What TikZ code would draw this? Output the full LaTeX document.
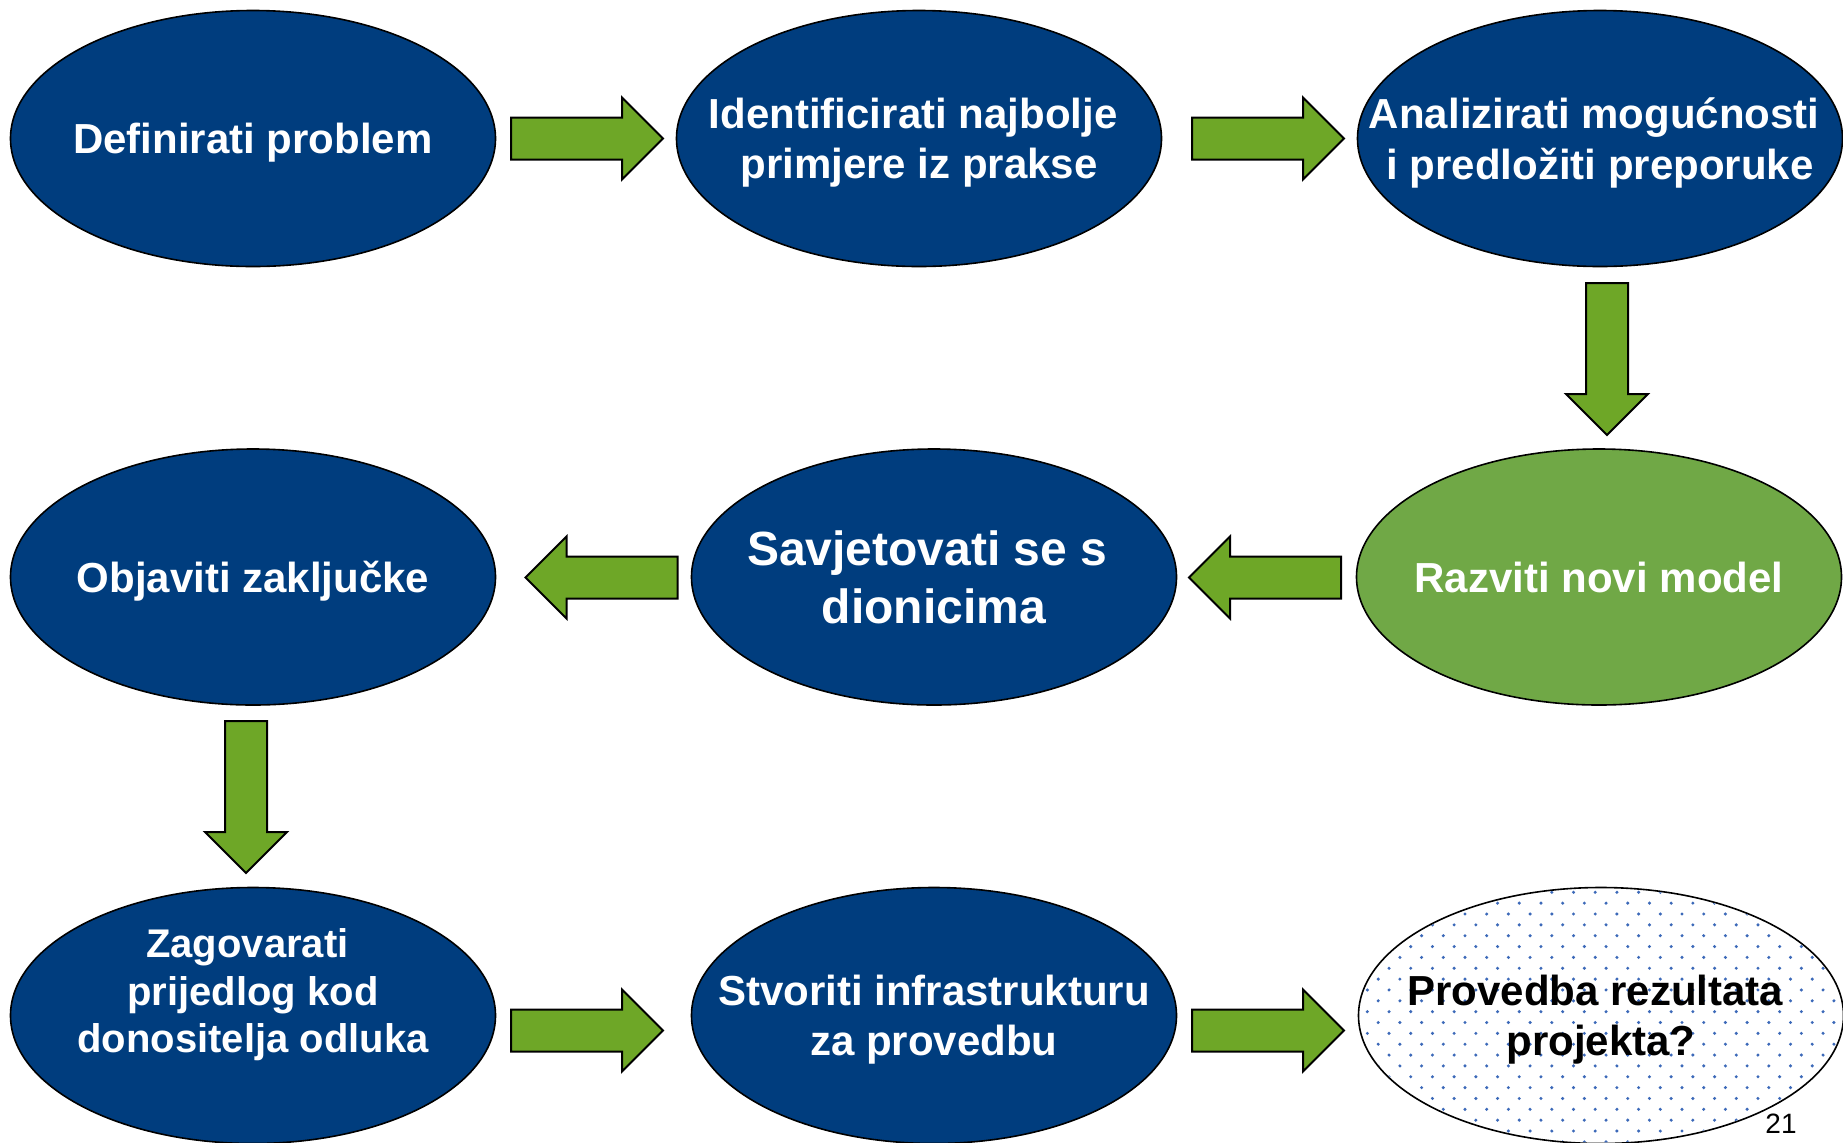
\documentclass[tikz,border=0pt]{standalone}
\usepackage{fontspec}
\setmainfont{Liberation Sans}
\usepackage{tikz}
\usetikzlibrary{shapes.geometric, shapes.arrows}
\definecolor{stepBlue}{RGB}{0,61,126}
\definecolor{modelGreen}{RGB}{112,168,70}
\definecolor{arrowGreen}{RGB}{110,167,39}
\definecolor{dotBlue}{RGB}{60,105,185}
\newcommand{\trail}{\hspace*{.278em}}

\begin{document}
\begin{tikzpicture}[x=0.5pt, y=-0.5pt,
	stage/.style={ellipse, draw=black, line width=0.8pt, fill=stepBlue, minimum width=242.5pt, minimum height=128pt, inner sep=0pt},
	steptext/.style={text=white, font=\bfseries\fontsize{21}{25.2}\selectfont, align=center, inner sep=0pt, text depth=0pt},
	flow/.style={single arrow, draw=black, line width=1pt, fill=arrowGreen, minimum height=76pt, minimum width=40pt, single arrow head extend=10pt, inner xsep=0pt, inner ysep=10pt, anchor=tail}]
					\useasboundingbox (0,0) rectangle (1843,1142);
					% ellipses, row by row
					\node[stage] (s1) at (253,138.5) {};
					\node[stage] (s2) at (919,138.5) {};
					\node[stage] (s3) at (1600,138.5) {};
					\node[stage] (s4) at (253,577) {};
					\node[stage] (s5) at (934,577) {};
					\node[stage, fill=modelGreen] (s6) at (1599,577) {};
					\node[stage] (s7) at (253,1015.5) {};
					\node[stage] (s8) at (934,1015.5) {};
					\node[stage, fill=white] (s9) at (1601,1015.5) {};
					\begin{scope}
						\clip (s9.center) ellipse [x radius=241, y radius=127];
						\foreach \r in {0,...,24}
							\foreach \c in {0,...,23}
								\fill[dotBlue] ({1345.65+\c*21.7+mod(\r,2)*10.85}, {881.45+\r*10.85}) circle [radius=1.7];
					\end{scope}
					% texts
					\node[steptext] (t1) at (s1) {Definirati problem};
					\node[steptext] (t2) at (s2) {Identificirati najbolje\trail\\primjere iz prakse};
					\node[steptext] (t3) at (s3) {Analizirati mogućnosti\trail\\i predložiti preporuke};
					\node[steptext] (t4) at (s4) {Objaviti zaključke};
					\node[steptext, font=\bfseries\fontsize{24}{28.8}\selectfont] (t5) at (s5) {Savjetovati se s\trail\\dionicima};
					\node[steptext] (t6) at (s6) {Razviti novi model};
					\node[steptext, font=\bfseries\fontsize{20}{23.8}\selectfont, yshift=12.5pt] (t7) at (s7) {Zagovarati\trail\\prijedlog kod\trail\\donositelja odluka};
					\node[steptext] (t8) at (s8) {Stvoriti infrastrukturu\\za provedbu};
					\node[steptext, text=black] (t9) at (s9) {Provedba rezultata\trail\\projekta?};
					% green block arrows, placed by their tails
					\node[flow] (a12) at (510,138.5) {};
					\node[flow] (a23) at (1191,138.5) {};
					\node[flow, rotate=-90] (a36) at (1607,282) {};
					\node[flow, rotate=180] (a65) at (1342,577.5) {};
					\node[flow, rotate=180] (a54) at (678.5,577.5) {};
					\node[flow, rotate=-90] (a47) at (246,720) {};
					\node[flow] (a78) at (510,1030.5) {};
					\node[flow] (a89) at (1191,1030.5) {};
					\node[font=\fontsize{14}{16}\selectfont, anchor=base, inner sep=0pt] (pagenum) at (1781,1133) {21};
\end{tikzpicture}
\end{document}
